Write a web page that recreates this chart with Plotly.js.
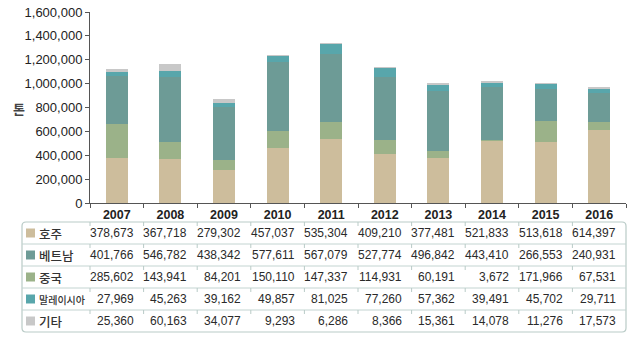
<!DOCTYPE html>
<html><head><meta charset="utf-8">
<script src="https://cdn.plot.ly/plotly-3.0.1.min.js"></script>
<style>html,body{margin:0;padding:0;background:#fff}#chart{width:640px;height:345px}</style>
</head><body><div id="chart"></div>
<script>
const years = ['2007','2008','2009','2010','2011','2012','2013','2014','2015','2016'];
const seriesNames = ['호주','베트남','중국','말레이시아','기타'];
const australia = [378673,367718,279302,457037,535304,409210,377481,521833,513618,614397];
const vietnam   = [401766,546782,438342,577611,567079,527774,496842,443410,266553,240931];
const china     = [285602,143941,84201,150110,147337,114931,60191,3672,171966,67531];
const malaysia  = [27969,45263,39162,49857,81025,77260,57362,39491,45702,29711];
const others    = [25360,60163,34077,9293,6286,8366,15361,14078,11276,17573];
const yTickVals = [0,200000,400000,600000,800000,1000000,1200000,1400000,1600000];
const yTickText = ['0','200,000','400,000','600,000','800,000','1,000,000','1,200,000','1,400,000','1,600,000'];
const yTitle = '톤';
const seriesValues = [australia, vietnam, china, malaysia, others];
const colors = ['#cdbd9c','#6d9b96','#9bb289','#58a6ab','#c8c8c8'];
// stacking order in the bars (bottom to top): 호주, 중국, 베트남, 말레이시아, 기타
const stackOrder = [0,2,1,3,4];

const W=640,H=345,mL=90,mR=14,mT=12,mB=142;
const plotW=W-mL-mR, plotH=H-mT-mB;
const px = x => (x-mL)/plotW;
const py = y => (H-mB-y)/plotH;
const numFont = 'Liberation Sans, Arial, sans-serif';
const korFont = 'Noto Sans CJK KR, sans-serif';
const lineCol = '#c3d4d1';

const traces = stackOrder.map(i=>({
  type:'bar', name:seriesNames[i], x:years, y:seriesValues[i],
  marker:{color:colors[i], line:{width:0}}, hoverinfo:'skip'
}));

const rowCenters=[233,255,277,299,321];
const rowTops=[222,244,266,288,310];
const tableBottom=332, tableLeft=22, tableRight=626;

const annotations=[];
const shapes=[];
annotations.push({x:px(19),y:py(108),xref:'paper',yref:'paper',text:yTitle,showarrow:false,
  font:{family:korFont,size:13,color:'#444',weight:700},xanchor:'center',yanchor:'middle'});

seriesNames.forEach((n,r)=>{
  const yc=py(rowCenters[r]);
  shapes.push({type:'rect',xref:'paper',yref:'paper',x0:px(26),x1:px(35),y0:yc-4.5/plotH,y1:yc+4.5/plotH,
    fillcolor:colors[r],line:{width:0}});
  annotations.push({x:px(37),y:yc,xref:'paper',yref:'paper',text:n,showarrow:false,xanchor:'left',yanchor:'middle',
    font:{family:korFont,size:n.length>3?10:12.5,color:'#333',weight:500}});
  seriesValues[r].forEach((v,i)=>{
    annotations.push({x:i,xref:'x',y:yc,yref:'paper',text:v.toLocaleString('en-US'),showarrow:false,
      xanchor:'right',yanchor:'middle',xshift:19,font:{family:numFont,size:12,color:'#2a2a2a'}});
  });
});

const x0=px(tableLeft),x1=px(tableRight),y0=py(tableBottom),y1=py(rowTops[0]);
const rx=4/plotW, ry=4/plotH;
shapes.push({type:'path',xref:'paper',yref:'paper',line:{color:'#b9cbc7',width:1.2},
  path:`M ${x0+rx},${y1} L ${x1-rx},${y1} Q ${x1},${y1} ${x1},${y1-ry} L ${x1},${y0+ry} Q ${x1},${y0} ${x1-rx},${y0} L ${x0+rx},${y0} Q ${x0},${y0} ${x0},${y0+ry} L ${x0},${y1-ry} Q ${x0},${y1} ${x0+rx},${y1} Z`});
rowTops.slice(1).forEach(t=>{
  shapes.push({type:'line',xref:'paper',yref:'paper',x0:x0,x1:x1,y0:py(t),y1:py(t),line:{color:lineCol,width:1}});
});
rowTops.forEach(t=>{
  for(let k=0;k<years.length;k++){
    shapes.push({type:'line',xref:'paper',yref:'paper',x0:k/years.length,x1:k/years.length,y0:py(t),y1:py(t+4),line:{color:'#b9cbc7',width:1}});
  }
});

const layout={
  width:W,height:H,margin:{l:mL,r:mR,t:mT,b:mB},
  paper_bgcolor:'#fff',plot_bgcolor:'#fff',
  barmode:'stack',bargap:0.59,showlegend:false,
  xaxis:{type:'category',categoryorder:'array',categoryarray:years,range:[-0.5,years.length-0.5],autorange:false,
    showline:true,linecolor:'#555',linewidth:1,ticks:'outside',tickson:'boundaries',
    ticklen:4,tickcolor:'#555',showgrid:false,zeroline:false,tickangle:0,
    tickfont:{family:numFont,size:12.5,color:'#222',weight:700}},
  yaxis:{range:[0,1600000],autorange:false,tickvals:yTickVals,ticktext:yTickText,showline:true,linecolor:'#555',linewidth:1,
    ticks:'outside',ticklen:4,tickcolor:'#555',showgrid:false,zeroline:false,
    tickfont:{family:numFont,size:13,color:'#222'}},
  annotations:annotations,shapes:shapes
};
Plotly.newPlot('chart',traces,layout,{staticPlot:true});
</script></body></html>
